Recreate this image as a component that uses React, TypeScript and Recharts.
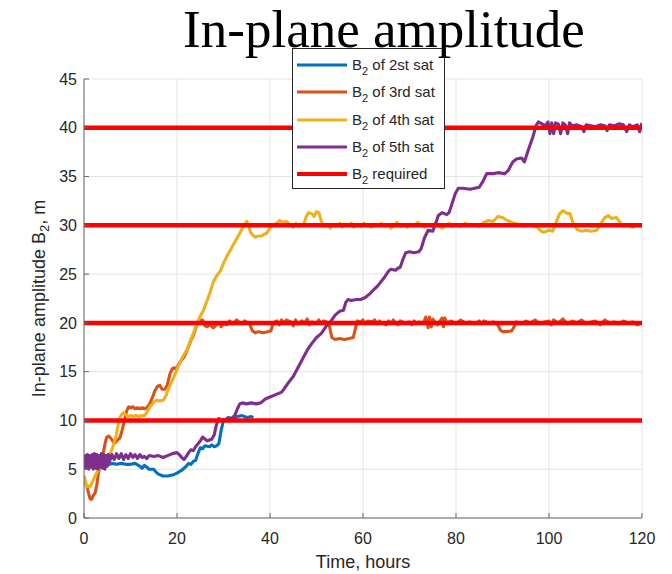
import React from 'react';
import { LineChart, Line, XAxis, YAxis, CartesianGrid, Legend } from 'recharts';

// ---- data (time in hours, amplitude in m) ----
const SAT2: number[][] = [
  [0, 6.1], [0.25, 5.4], [0.5, 6.2], [0.75, 5.3], [1, 6.1], [1.25, 5.4], [1.5, 6.2], [1.75, 5.5],
  [2, 6.1], [2.25, 5.3], [2.5, 6.0], [2.75, 5.4], [3, 6.1], [3.25, 5.4], [3.5, 6.0], [3.75, 5.5],
  [4, 5.9], [4.25, 5.4], [4.5, 5.9], [4.75, 5.5], [5, 5.8], [5.5, 5.5], [6, 5.6], [7, 5.5],
  [8, 5.6], [9, 5.5], [10, 5.5], [11, 5.6], [12, 5.3], [12.5, 5.1], [13, 5.4], [13.5, 5.2],
  [14, 5.0], [15, 5.0], [15.5, 4.7], [16, 4.5], [17, 4.3], [18, 4.3], [19, 4.4], [20, 4.6],
  [21, 4.9], [22, 5.3], [22.5, 5.6], [23, 5.5], [23.5, 5.8], [24, 5.9], [24.5, 6.6], [25, 7.2],
  [25.5, 7.1], [26, 7.4], [27, 7.3], [27.5, 7.5], [28, 7.3], [28.5, 7.4], [29, 7.6], [29.5, 9.0],
  [30, 10.0], [30.5, 10.1], [31, 10.3], [32, 10.2], [33, 10.4], [34, 10.5], [35, 10.3], [36, 10.4],
  [36.4, 10.3],
];

const SAT3: number[][] = [
  [0, 4.3], [0.3, 3.5], [0.6, 3.3], [1, 2.5], [1.3, 2.0], [1.6, 1.9], [2, 2.3], [2.4, 2.6],
  [2.8, 3.5], [3.1, 4.6], [3.5, 5.3], [3.8, 6.0], [4.2, 6.8], [4.6, 7.8], [4.9, 8.3], [5.3, 8.4],
  [5.9, 8.1], [6.3, 7.8], [6.7, 7.7], [7.2, 8.0], [7.7, 8.2], [8.2, 9.0], [8.8, 10.2], [9.2, 11.0],
  [9.6, 11.4], [10, 11.3], [10.5, 11.4], [11, 11.2], [11.5, 11.3], [12, 11.2], [12.5, 11.3], [13, 11.2],
  [13.5, 11.3], [14, 11.6], [14.6, 12.2], [15.2, 13.0], [15.8, 13.5], [16.3, 13.6], [16.8, 13.2], [17.4, 13.2],
  [17.9, 13.6], [18.5, 14.8], [19, 15.3], [19.5, 15.4], [19.9, 15.3], [20.4, 15.8], [21, 16.2], [21.5, 16.5],
  [22, 17.0], [22.5, 17.6], [23, 18.2], [23.5, 18.7], [24, 19.4], [24.5, 20.1], [25, 20.3], [25.5, 20.3],
  [26, 19.7], [26.5, 19.6], [27, 19.8], [27.8, 19.5], [28.5, 19.8], [29, 20.0], [29.5, 19.6], [30, 19.9],
  [30.7, 19.8], [31.3, 20.2], [32, 19.9], [32.8, 20.3], [33.3, 20.1], [34, 19.9], [34.5, 20.2], [35.2, 20.0],
  [35.7, 19.8], [36.2, 19.2], [36.8, 19.0], [37.5, 19.1], [38.5, 19.0], [39.5, 19.1], [40.2, 19.2], [40.7, 20.0],
  [41.5, 20.2], [42, 19.8], [42.5, 20.3], [43, 20.0], [43.5, 20.3], [44.5, 20.1], [45, 19.7], [45.5, 20.3],
  [46, 19.9], [46.8, 20.2], [47.5, 20.0], [48, 20.4], [48.5, 19.8], [49, 20.1], [50, 20.0], [50.5, 20.3],
  [51, 19.9], [51.5, 20.2], [52.2, 20.1], [52.8, 19.6], [53.3, 18.5], [54, 18.3], [55, 18.4], [56, 18.3],
  [57, 18.4], [57.9, 18.5], [58.4, 19.5], [58.8, 20.2], [59.5, 20.1], [60, 20.3], [60.5, 19.9], [61, 20.2],
  [62, 20.1], [62.5, 20.3], [63, 19.9], [63.5, 20.2], [64, 20.0], [65, 19.8], [65.5, 20.2], [66, 19.9],
  [66.5, 20.3], [67, 20.0], [67.5, 19.8], [68, 20.2], [69, 20.0], [70, 20.1], [70.5, 19.8], [71, 20.2],
  [71.5, 19.9], [72, 20.1], [73, 20.0], [73.5, 20.6], [74, 19.5], [74.3, 20.6], [74.7, 19.6], [75, 20.4],
  [75.5, 20.1], [76, 19.8], [77, 20.5], [77.3, 19.6], [77.6, 20.5], [78, 20.0], [79, 20.2], [80, 19.9],
  [81, 20.3], [82, 20.0], [83, 20.1], [84, 19.9], [85, 20.2], [85.5, 19.9], [86, 20.2], [87, 20.0],
  [88, 20.1], [89, 19.8], [89.5, 19.3], [90, 19.1], [91, 19.1], [92, 19.2], [92.5, 19.6], [93, 20.1],
  [94, 19.9], [95, 20.2], [96, 20.0], [97, 20.3], [98, 19.9], [99, 20.1], [100, 20.2], [100.5, 19.8],
  [101, 20.3], [102, 20.0], [103, 20.4], [104, 19.9], [105, 20.2], [106, 20.0], [107, 20.3], [108, 19.9],
  [109, 20.1], [110, 20.2], [111, 19.8], [112, 20.3], [113, 20.0], [114, 20.1], [115, 19.9], [116, 20.2],
  [117, 20.0], [118, 20.1], [119, 19.8], [120, 20.0],
];

const SAT4: number[][] = [
  [0, 4.3], [0.3, 3.8], [0.6, 3.2], [1, 3.3], [1.3, 3.2], [1.7, 3.6], [2.1, 4.0], [2.7, 4.6],
  [3.2, 5.0], [3.7, 5.5], [4.2, 5.9], [4.7, 6.2], [5.2, 6.5], [5.6, 6.6], [6, 7.0], [6.4, 7.6],
  [6.8, 8.2], [7.2, 9.2], [7.7, 10.3], [8.1, 10.6], [8.5, 10.8], [9, 10.6], [9.5, 10.4], [10, 10.5],
  [10.6, 10.4], [11.2, 10.5], [11.8, 10.4], [12.4, 10.5], [13.1, 10.5], [13.6, 10.9], [14.2, 11.4], [14.9, 11.8],
  [15.6, 12.1], [16.3, 12.0], [17.1, 12.1], [17.6, 12.5], [18.1, 13.2], [18.5, 13.6], [19.2, 14.3], [19.9, 15.1],
  [20.6, 15.9], [21.3, 16.6], [22.1, 17.2], [22.8, 18.1], [23.5, 18.9], [24.2, 19.8], [24.9, 20.6], [25.7, 21.3],
  [26.4, 22.2], [27.1, 23.1], [27.8, 24.2], [28.5, 24.8], [29.3, 25.3], [30, 26.1], [30.7, 26.8], [31.4, 27.4],
  [32.1, 28.0], [32.8, 28.6], [33.5, 29.2], [34.2, 29.8], [35, 30.4], [35.4, 30.0], [35.8, 29.3], [36.3, 29.0],
  [36.8, 28.8], [37.5, 28.9], [38.2, 28.9], [38.8, 29.1], [39.3, 29.2], [39.8, 29.6], [40.3, 29.9], [40.8, 30.1],
  [41.4, 30.2], [42.1, 30.5], [42.8, 30.3], [43.5, 30.4], [44.3, 30.1], [45, 29.8], [45.6, 30.2], [46.2, 29.9],
  [46.8, 30.0], [47.3, 30.2], [47.8, 30.9], [48.3, 31.3], [49, 31.2], [49.5, 30.9], [50, 31.4], [50.5, 31.3],
  [51.1, 30.3], [51.8, 29.9], [52.5, 30.0], [53, 29.7], [53.5, 30.1], [54.2, 29.9], [55, 30.2], [55.5, 29.8],
  [56, 30.1], [56.8, 30.0], [57.5, 30.2], [58, 29.8], [58.7, 30.1], [59.5, 29.9], [60.2, 30.2], [61, 30.0],
  [61.8, 29.8], [62.5, 30.1], [63.2, 30.0], [64, 30.2], [64.8, 29.9], [65.5, 30.1], [66, 29.7], [66.7, 30.0],
  [67.3, 30.3], [68, 29.9], [68.8, 30.1], [69.5, 29.8], [70.2, 30.1], [71, 30.0], [71.8, 30.3], [72.5, 30.0],
  [73.2, 29.8], [74, 30.1], [74.8, 29.9], [75.5, 30.2], [76.2, 30.0], [77, 29.7], [77.8, 30.0], [78.5, 30.2],
  [79.2, 29.9], [80, 30.1], [81, 29.9], [82, 30.2], [83, 30.0], [84, 30.1], [85, 29.9], [86, 30.3],
  [87, 30.5], [88, 30.4], [89, 30.9], [90, 30.8], [91, 30.5], [91.6, 30.4], [92.5, 30.2], [93.5, 30.1],
  [94.5, 29.9], [95.5, 30.1], [96.5, 30.0], [97.5, 29.8], [98.3, 29.4], [99, 29.3], [100, 29.5], [100.8, 29.4],
  [101.6, 30.4], [102.3, 31.2], [103, 31.5], [104, 31.2], [104.5, 31.2], [105.2, 30.2], [106, 29.6], [107, 29.4],
  [108, 29.5], [109, 29.4], [110.3, 29.5], [111.2, 30.2], [112, 30.8], [112.8, 31.0], [113.5, 30.7], [114.5, 30.8],
  [115.3, 30.3], [116, 29.9], [117, 30.0], [118, 29.8], [119, 30.1], [120, 29.9],
];

const SAT5: number[][] = [
  [0, 5.0], [0.25, 6.4], [0.5, 5.1], [0.75, 6.5], [1, 5.0], [1.25, 6.4], [1.5, 5.2], [1.75, 6.5],
  [2, 5.0], [2.25, 6.6], [2.5, 5.1], [2.75, 6.5], [3, 5.0], [3.25, 6.4], [3.5, 5.2], [3.75, 6.6],
  [4, 5.1], [4.25, 6.5], [4.5, 5.0], [4.75, 6.4], [5, 5.3], [5.25, 6.5], [5.5, 5.8], [6, 6.5],
  [6.5, 6.0], [7, 6.6], [7.5, 6.1], [8, 6.6], [8.5, 6.0], [9, 6.5], [9.5, 6.1], [10, 6.6],
  [10.5, 6.2], [11, 6.5], [11.5, 6.1], [12, 6.5], [12.5, 6.2], [13, 6.3], [13.5, 6.1], [14, 6.4],
  [15, 6.3], [16, 6.4], [17, 6.2], [18, 6.4], [19, 6.6], [20, 6.7], [20.5, 6.5], [21, 6.2],
  [21.5, 6.0], [22, 6.3], [22.5, 6.7], [23, 7.0], [23.5, 6.9], [24, 7.3], [24.5, 7.6], [25, 7.9],
  [25.5, 8.3], [26, 8.1], [26.5, 7.9], [27, 8.0], [27.5, 8.1], [28, 8.5], [28.5, 9.6], [29, 10.2],
  [29.5, 10.0], [30, 10.1], [31, 10.0], [32, 10.3], [32.5, 10.6], [33, 11.2], [33.5, 11.7], [34, 11.8],
  [35, 11.7], [36, 11.8], [37, 11.7], [38, 11.8], [39, 12.2], [40, 12.4], [41, 12.6], [42, 12.8],
  [42.5, 12.9], [43, 13.2], [44, 13.9], [45, 14.5], [46, 15.4], [47, 16.3], [48, 17.2], [49, 17.9],
  [50, 18.5], [51, 18.9], [52, 19.6], [53, 20.1], [54, 20.8], [55, 21.2], [55.8, 21.3], [56.3, 22.1],
  [56.8, 22.4], [57.5, 22.3], [58.5, 22.4], [59.5, 22.4], [60.5, 22.6], [61.5, 23.0], [62.5, 23.5], [63, 23.7],
  [63.5, 24.0], [64.5, 24.6], [65.5, 25.3], [66, 25.5], [67, 25.4], [67.5, 25.6], [68, 25.7], [68.5, 26.4],
  [69.2, 27.2], [70, 27.3], [71, 27.2], [72, 27.3], [72.5, 27.6], [73.2, 28.7], [74, 29.5], [75, 29.4],
  [75.5, 30.0], [76.2, 31.0], [77, 31.3], [78, 31.1], [78.5, 31.3], [79, 32.0], [79.8, 33.2], [80.5, 33.8],
  [81.5, 33.8], [83, 33.7], [84, 33.8], [85, 33.9], [85.8, 34.5], [86.6, 35.3], [88, 35.3], [89, 35.4],
  [90.5, 35.3], [91.2, 35.6], [92.2, 36.5], [93, 36.8], [94.1, 36.9], [94.7, 36.5], [95.2, 37.2], [95.9, 38.2],
  [96.5, 39.0], [97.2, 40.2], [97.7, 40.6], [98.5, 40.4], [99.2, 40.2], [99.8, 40.6], [100.2, 39.4], [100.6, 40.5],
  [101, 39.4], [101.4, 40.5], [102, 40.4], [102.5, 39.4], [103, 40.5], [103.5, 40.3], [104, 39.4], [104.4, 40.5],
  [105, 40.2], [106, 40.3], [107, 40.1], [107.5, 39.6], [108, 40.3], [109, 40.2], [110, 40.1], [111, 40.3],
  [112, 40.2], [112.5, 39.7], [113, 40.3], [114, 40.2], [115, 40.4], [116, 40.3], [116.7, 39.6], [117.3, 40.3],
  [118, 40.1], [119, 40.3], [119.5, 39.6], [120, 40.5],
];

const REQUIRED_LEVELS = [10, 20, 30, 40];
const TIME_RANGE = [0, 120];
const X_TICKS = [0, 20, 40, 60, 80, 100, 120];
const Y_TICKS = [0, 5, 10, 15, 20, 25, 30, 35, 40, 45];

const SERIES = [
  { key: 's2', label: ' of 2st sat', color: '#0072BD', points: SAT2 },
  { key: 's3', label: ' of 3rd sat', color: '#D95319', points: SAT3 },
  { key: 's4', label: ' of 4th sat', color: '#EDB120', points: SAT4 },
  { key: 's5', label: ' of 5th sat', color: '#7E2F8E', points: SAT5 },
];
const REQUIRED = { label: ' required', color: '#FF0000' };

const toRows = (pts: number[][]) => pts.map(([t, v]) => ({ t, v }));

// ---- layout ----
const W = 672;
const H = 574;
const PLOT_TOP = 79;
const PLOT_BOTTOM = 518;
const AXIS_COLOR = '#6b6b6b';
const TEXT_COLOR = '#262626';

const YLabel = () => {
  const cx = 39;
  const cy = (PLOT_TOP + PLOT_BOTTOM) / 2;
  return (
    <text
      x={cx}
      y={cy}
      transform={`rotate(-90, ${cx}, ${cy})`}
      textAnchor="middle"
      dominantBaseline="central"
      fontSize={18}
      fill={TEXT_COLOR}
    >
      In-plane amplitude B<tspan dy={5} fontSize={13}>2</tspan>
      <tspan dy={-5}>, m</tspan>
    </text>
  );
};

const XLabel = () => (
  <text x={363} y={568} textAnchor="middle" fontSize={18} fill={TEXT_COLOR}>
    Time, hours
  </text>
);

const LegendBox = () => {
  const rows = [
    ...SERIES.map((s) => ({ label: s.label, color: s.color, w: 3 })),
    { label: REQUIRED.label, color: REQUIRED.color, w: 4 },
  ];
  return (
    <div
      style={{
        width: 151,
        height: 139,
        background: '#fff',
        border: '1px solid #262626',
        position: 'relative',
        fontFamily: '"Liberation Sans", Arial, sans-serif',
        fontSize: 15,
        color: TEXT_COLOR,
      }}
    >
      {rows.map((r, i) => (
        <div
          key={i}
          style={{
            position: 'absolute',
            left: 0,
            top: 16 + i * 27.3 - 7,
            height: 14,
            display: 'flex',
            alignItems: 'center',
            whiteSpace: 'nowrap',
          }}
        >
          <svg width={59} height={14} style={{ display: 'block' }}>
            <line x1={4} x2={54} y1={7} y2={7} stroke={r.color} strokeWidth={r.w} />
          </svg>
          <span style={{ lineHeight: '14px', height: 14, display: 'inline-block' }}>
            B<span style={{ fontSize: 11, position: 'relative', top: 5 }}>2</span>
            {r.label}
          </span>
        </div>
      ))}
    </div>
  );
};

export default function App() {
  return (
    <div
      style={{
        position: 'absolute',
        left: 0,
        top: 0,
        width: W,
        height: H,
        background: '#fff',
        fontFamily: '"Liberation Sans", Arial, sans-serif',
      }}
    >
      <LineChart width={W} height={H} margin={{ top: PLOT_TOP, right: 30, bottom: 0, left: 0 }}>
        <CartesianGrid stroke="#e4e4e4" strokeWidth={1} />
        <XAxis
          dataKey="t"
          type="number"
          domain={TIME_RANGE}
          ticks={X_TICKS}
          height={H - PLOT_BOTTOM}
          tickSize={-5}
          tickMargin={20}
          axisLine={{ stroke: AXIS_COLOR }}
          tickLine={{ stroke: AXIS_COLOR }}
          tick={{ fontSize: 16, fill: TEXT_COLOR }}
          label={<XLabel />}
          allowDataOverflow
        />
        <XAxis
          xAxisId="top"
          orientation="top"
          dataKey="t"
          type="number"
          domain={TIME_RANGE}
          ticks={X_TICKS}
          height={0}
          tickSize={-5}
          axisLine={{ stroke: AXIS_COLOR }}
          tickLine={{ stroke: AXIS_COLOR }}
          tick={false}
        />
        <YAxis
          type="number"
          domain={[0, 45]}
          ticks={Y_TICKS}
          width={84}
          tickSize={-5}
          tickMargin={12}
          axisLine={{ stroke: AXIS_COLOR }}
          tickLine={{ stroke: AXIS_COLOR }}
          tick={{ fontSize: 16, fill: TEXT_COLOR }}
          label={<YLabel />}
          allowDataOverflow
        />
        <YAxis
          yAxisId="right"
          orientation="right"
          type="number"
          domain={[0, 45]}
          ticks={Y_TICKS}
          width={0}
          tickSize={-5}
          axisLine={{ stroke: AXIS_COLOR }}
          tickLine={{ stroke: AXIS_COLOR }}
          tick={false}
        />
        {SERIES.map((s) => (
          <Line
            key={s.key}
            data={toRows(s.points)}
            dataKey="v"
            name={s.key}
            type="linear"
            stroke={s.color}
            strokeWidth={3.1}
            strokeLinejoin="round"
            dot={false}
            activeDot={false}
            isAnimationActive={false}
          />
        ))}
        {REQUIRED_LEVELS.map((lvl) => (
          <Line
            key={'req' + lvl}
            data={[{ t: TIME_RANGE[0], v: lvl }, { t: TIME_RANGE[1], v: lvl }]}
            dataKey="v"
            name={'req' + lvl}
            type="linear"
            stroke={REQUIRED.color}
            strokeWidth={4.5}
            dot={false}
            activeDot={false}
            isAnimationActive={false}
          />
        ))}
        <Legend
          layout="horizontal"
          verticalAlign="middle"
          align="center"
          content={() => <LegendBox />}
          wrapperStyle={{ position: 'absolute', left: 292, top: 48, width: 153, height: 141 }}
        />
      </LineChart>
      <svg
        width={W}
        height={70}
        style={{ position: 'absolute', left: 0, top: 0, pointerEvents: 'none', overflow: 'visible' }}
      >
        <text
          x={384}
          y={46.5}
          textAnchor="middle"
          fontSize={53}
          fontFamily='"Liberation Serif", "Times New Roman", serif'
          fill="#000"
        >
          In-plane amplitude
        </text>
      </svg>
    </div>
  );
}
